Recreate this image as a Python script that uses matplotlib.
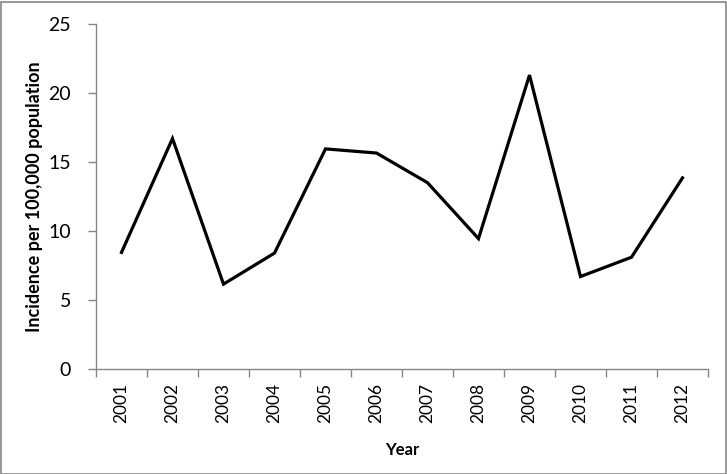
import matplotlib.pyplot as plt
from matplotlib.patches import Rectangle

plt.rcParams['font.family'] = ['Lato', 'DejaVu Sans']

years = ['2001', '2002', '2003', '2004', '2005', '2006',
         '2007', '2008', '2009', '2010', '2011', '2012']
incidence = [8.45, 16.7, 6.15, 8.4, 15.95, 15.65, 13.5, 9.45, 21.3, 6.7, 8.1, 13.85]

fig = plt.figure(figsize=(7.27, 4.74), dpi=100)
ax = fig.add_axes([96 / 727, 1 - 369 / 474, 612 / 727, 345 / 474])

x = list(range(len(years)))
ax.plot(x, incidence, color='black', linewidth=2.3, solid_joinstyle='miter')

ax.set_xlim(-0.5, len(years) - 0.5)
ax.set_ylim(0, 25)
ax.set_yticks([0, 5, 10, 15, 20, 25])
ax.set_xticks([i - 0.5 for i in range(len(years) + 1)])
ax.set_xticklabels([])
ax.set_xticks(x, minor=True)
ax.set_xticklabels(years, minor=True, rotation=90, fontsize=12.5)
ax.tick_params(axis='x', which='minor', length=0, pad=10)
ax.tick_params(axis='x', which='major', length=6, color='#868686', width=1)
ax.tick_params(axis='y', length=6, color='#868686', width=1, labelsize=14, pad=12)

for side in ['top', 'right']:
    ax.spines[side].set_visible(False)
for side in ['left', 'bottom']:
    ax.spines[side].set_color('#868686')
    ax.spines[side].set_linewidth(1)

ax.set_ylabel('Incidence per 100,000 population', fontsize=13, fontweight='bold', labelpad=4)
ax.set_xlabel('Year', fontsize=12, fontweight='bold', labelpad=14)

fig.patches.append(Rectangle((0.5 / 727, 0.5 / 474), 1 - 2 / 727, 1 - 2 / 474,
                             transform=fig.transFigure, fill=False,
                             edgecolor='#868686', linewidth=1.2))

fig.savefig('out.png', dpi=100)
